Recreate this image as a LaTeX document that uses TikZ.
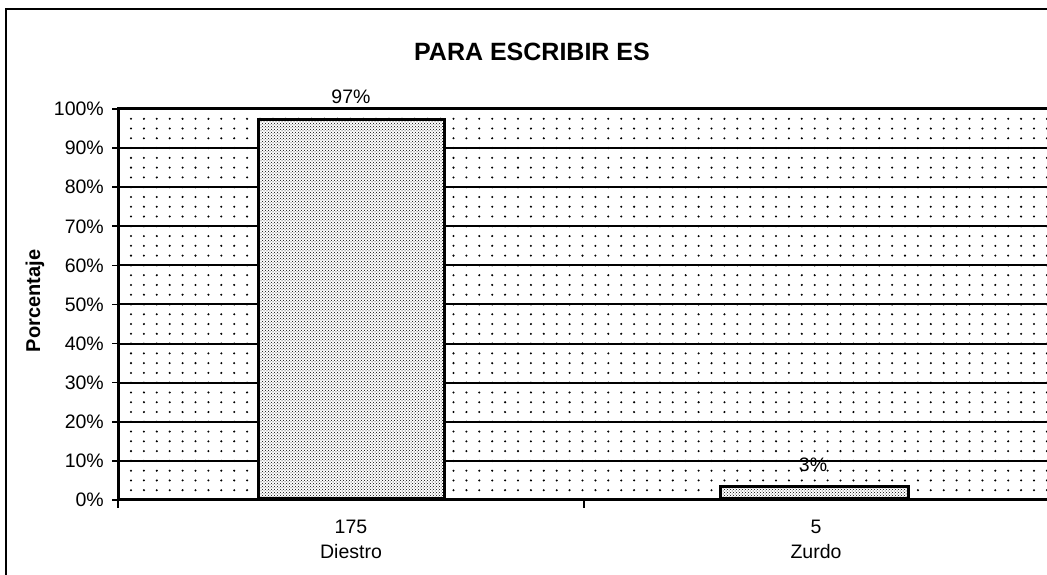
\documentclass[tikz,border=0pt]{standalone}
\usepackage{fontspec}
\setmainfont{Liberation Sans}
\usetikzlibrary{patterns, positioning}

\begin{document}
\begin{tikzpicture}[
    x=1pt, y=1pt,
    frameline/.style={draw, line width=2pt},
    gridline/.style={line width=2pt},
    axisline/.style={line width=3pt},
    bar/.style={draw, line width=3pt, preaction={fill=white}, pattern=crosshatch dots, inner sep=0pt, anchor=south, minimum width=186},
    ticklabel/.style={anchor=east, inner sep=0pt, font=\fontsize{19.5}{22}\selectfont},
    catlabel/.style={inner sep=0pt, font=\fontsize{19.5}{22}\selectfont},
    datalabel/.style={inner sep=0pt, font=\fontsize{19.5}{22}\selectfont}
]
    \useasboundingbox (0,0) rectangle (1047,575);
    \clip (0,0) rectangle (1047,575);

    % Chart frame
    \draw[frameline] (6,566) rectangle (1070,-20);

    % Title
    \node[font=\bfseries\fontsize{25}{29}\selectfont] (title) at (532,523) {PARA ESCRIBIR ES};

    % Dotted background
    \foreach \j in {1,...,39}
        \foreach \i in {0,...,71}
            \fill ({131+12.9*\i},{75+9.775*\j}) circle (1.15);

    % Gridlines
    \foreach \k in {1,...,9}
        \draw[gridline] (118,{75+39.1*\k}) -- (1050,{75+39.1*\k});

    % Plot border
    \draw[axisline] (1050,466) -- (118,466) -- (118,75) -- (1050,75);

    % Ticks and tick labels
    \foreach \k in {0,...,10} {
        \draw[line width=1.6pt] (112,{75+39.1*\k}) -- (118,{75+39.1*\k});
        \node[ticklabel] (tick\k) at (104,{75+39.1*\k}) {\pgfmathparse{int(10*\k)}\pgfmathresult\%};
    }
    \foreach \x in {118,584,1050}
        \draw[line width=1.6pt] (\x,75) -- (\x,67);

    % Axis title
    \node[rotate=90, font=\bfseries\fontsize{20}{24}\selectfont] (ylabel) at (35,274) {Porcentaje};

    % Bars
    \node[bar, minimum height=379.3] (diestro) at (351,75) {};
    \node[bar, minimum height=11.7, minimum width=188] (zurdo) at (814,75) {};

    % Data labels
    \node[datalabel, above=14pt of diestro] (pctdiestro) {97\%};
    \node[datalabel] (pctzurdo) at (813,110) {3\%};

    % Category labels
    \node[catlabel] (ndiestro) at (351,48) {175};
    \node[catlabel, below=10pt of ndiestro] (cdiestro) {Diestro};
    \node[catlabel] (nzurdo) at (816,48) {5};
    \node[catlabel, below=10pt of nzurdo] (czurdo) {Zurdo};
\end{tikzpicture}
\end{document}
